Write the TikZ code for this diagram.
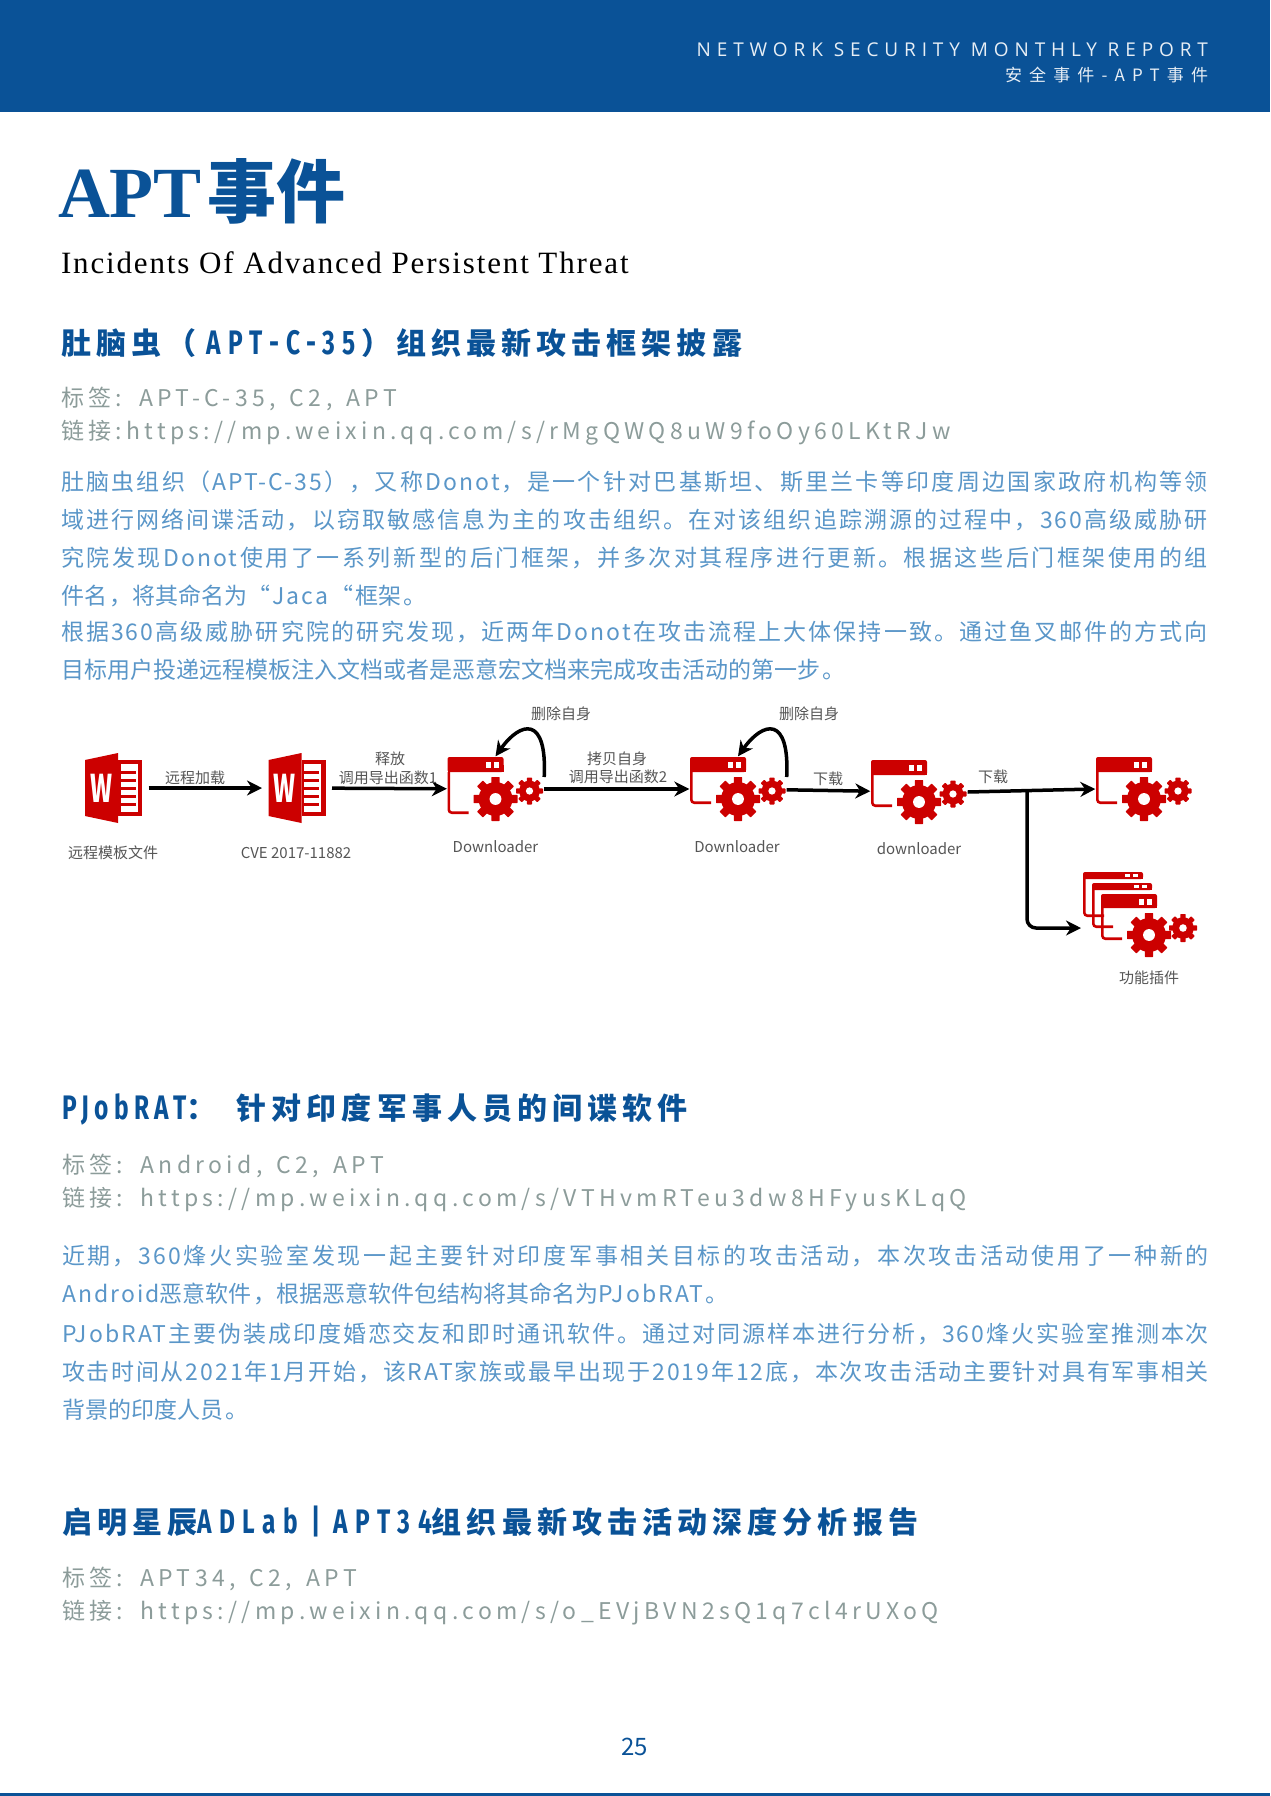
\documentclass[tikz,border=0pt]{standalone}
\usepackage{fontspec}
\usetikzlibrary{arrows.meta}
\setmainfont{Noto Sans CJK SC}
\newfontfamily\bodyfont[LetterSpace=9]{Noto Sans CJK SC}
\newfontfamily\tagfont[LetterSpace=18.8,WordSpace=1.5]{Noto Sans CJK SC}
\newfontfamily\headfont[LetterSpace=17]{Noto Sans CJK SC}
\newfontfamily\headlat[LetterSpace=16,FakeStretch=.72]{Fira Sans}
\newfontfamily\headlatw[LetterSpace=22,FakeStretch=.72]{Fira Sans}
\newfontfamily\topfont[LetterSpace=31]{Open Sans}
\newfontfamily\topcjk[LetterSpace=42]{Noto Sans CJK SC}
\newfontfamily\titlelat{Liberation Serif}
\newfontfamily\subfont[LetterSpace=6]{Liberation Serif}
\newfontfamily\wfont[FakeStretch=.62]{Noto Sans CJK SC}
\newcommand{\fsz}[1]{\fontsize{#1}{#1}\selectfont}
\newcommand{\hl}[1]{{\headlat\fsz{34}#1}}
\newcommand{\hlw}[1]{{\headlatw\fsz{34}#1}}
\XeTeXlinebreaklocale "zh"
\XeTeXlinebreakskip=0pt plus 2pt minus 1pt
\definecolor{bannerblue}{HTML}{0A5297}
\definecolor{bodyblue}{HTML}{5A96C8}
\definecolor{taggrey}{HTML}{8C9C9A}
\definecolor{iconred}{HTML}{CC0000}
\definecolor{labelgrey}{HTML}{555555}
\tikzset{
	txt/.style={inner sep=0pt,outer sep=0pt,anchor=base west},
	toptxt/.style={txt,anchor=base east,text=white!90!bannerblue},
	headtxt/.style={txt,text=bannerblue,font=\headfont\bfseries\fsz{30}},
	tagtxt/.style={txt,text=taggrey,font=\tagfont\fsz{23}},
	bodytxt/.style={inner sep=0pt,outer sep=0pt,anchor=north west,text width=1147pt,align=justify,text=bodyblue,
		font=\bodyfont\fontsize{23}{37.8}\selectfont,execute at begin node={\sloppy}},
	lbl/.style={inner sep=0pt,text=labelgrey,font=\fsz{15}},
	iconbox/.style={inner sep=0pt,minimum width=97pt,minimum height=65pt},
	wordbox/.style={inner sep=0pt,minimum width=57pt,minimum height=70pt,outer sep=6.5pt},
	flowline/.style={line width=3.5pt,-{Stealth[length=15pt,width=15pt]}},
	pics/gearicon/.style={code={
		\fill[iconred] (0,0) circle ({#1*0.77});
		\foreach \a in {0,45,...,315}
			\fill[iconred,rotate=\a,rounded corners=0.6pt] ({-#1*0.19},{-#1}) rectangle ({#1*0.19},0);
		\fill[white] (0,0) circle ({#1*0.27});
	}},
	pics/winicon/.style n args={3}{code={
		\fill[iconred,rounded corners=2pt] (0,0) rectangle (#1,#3);
		\fill[iconred] (0,{#3/2}) rectangle (#1,#3);
		\fill[white] ({#1-18},{#3*0.35}) rectangle ({#1-13},{#3*0.75});
		\fill[white] ({#1-10},{#3*0.35}) rectangle ({#1-5},{#3*0.75});
		\draw[iconred,line width=2.6pt,rounded corners=3pt] (1.3,#3) -- (1.3,{#2-1.3}) -- (21,{#2-1.3});
	}},
	pics/dlicon/.style={code={
		\pic at (-48,-32) {winicon={56}{#1}{15}};
		\pic at (0,10) {gearicon=22};
		\pic at (34,2) {gearicon=13.5};
	}},
	pics/wordicon/.style={code={
		\fill[iconred] (-28.5,-28) -- (4.5,-35) -- (4.5,35) -- (-28.5,28) -- cycle;
		\fill[iconred] (4.5,-28) rectangle (28.5,28);
		\fill[white] (7,-24) rectangle (24,24);
		\foreach \s in {-17,-9,-1,7,15}
			\fill[iconred] (7,\s) rectangle (22,\s+3);
		\node[inner sep=0pt,text=white,font=\wfont\bfseries\fsz{38}] at (-12,0) {W};
	}},
}

\begin{document}
\begin{tikzpicture}[x=1pt,y=-1pt]
	\useasboundingbox (0,0) rectangle (1270,1796);
	\fill[bannerblue] (0,0) rectangle (1270,112);
	\fill[bannerblue] (0,1793) rectangle (1270,1796);

	\node[toptxt,font=\topfont\fsz{19}] (reportname) at (1208,56) {NETWORK SECURITY MONTHLY REPORT};
	\node[toptxt,font=\topcjk\fsz{17}] (reportpart) at (1208,81) {安全事件-APT事件};

	\node[txt,text=bannerblue] (pagetitle) at (58,217)
		{{\titlelat\bfseries\fsz{72}APT}\hspace{5pt}{\bfseries\fsz{69}事件}};
	\node[txt,font=\subfont\fsz{31}] (pagesub) at (61,273) {Incidents Of Advanced Persistent Threat};

	% first incident
	\node[headtxt] (headA) at (61,354) {肚脑虫（\hspace{10pt}\hlw{APT-C-35}\hspace{5pt}）组织最新攻击框架披露};
	\node[tagtxt] (tagA) at (61,406) {标签: APT-C-35, C2, APT};
	\node[tagtxt] (linkA) at (61,439) {链接:https://mp.weixin.qq.com/s/rMgQWQ8uW9foOy60LKtRJw};
	\node[bodytxt] (textA) at (61,471) {肚脑虫组织（APT-C-35），又称Donot，是一个针对巴基斯坦、斯里兰卡等印度周边国家政府机构等领\linebreak
		域进行网络间谍活动，以窃取敏感信息为主的攻击组织。在对该组织追踪溯源的过程中，360高级威胁研\linebreak
		究院发现Donot使用了一系列新型的后门框架，并多次对其程序进行更新。根据这些后门框架使用的组\linebreak
		件名，将其命名为“Jaca“框架。};
	\node[bodytxt] (textB) at (61,621) {根据360高级威胁研究院的研究发现，近两年Donot在攻击流程上大体保持一致。通过鱼叉邮件的方式向\linebreak
		目标用户投递远程模板注入文档或者是恶意宏文档来完成攻击活动的第一步。};

	% attack chain
	\node[wordbox] (wordA) at (113.5,788) {};
	\node[wordbox] (wordB) at (297,788) {};
	\node[iconbox] (dlA) at (495.5,789) {};
	\node[iconbox] (dlB) at (738,789) {};
	\node[iconbox] (dlC) at (919,792) {};
	\node[iconbox] (dlD) at (1144,789) {};
	\node[inner sep=0pt,minimum width=114pt,minimum height=60pt,outer sep=2pt] (plugin) at (1140,928) {};
	\coordinate (branch) at (1027,791);

	\pic at (wordA.center) {wordicon};
	\pic at (wordB.center) {wordicon};
	\pic at (dlA.center) {dlicon=57};
	\pic at (dlB.center) {dlicon=47};
	\pic at (dlC.center) {dlicon=47};
	\pic at (dlD.center) {dlicon=47};
	\pic at (1083,872) {winicon={60}{45}{7}};
	\pic at (1092,883) {winicon={60}{45}{7}};
	\pic at (1101,894) {winicon={56}{46}{14}};
	\pic at (1149,935) {gearicon=22};
	\pic at (1183,928) {gearicon=14};

	\draw[flowline] (wordA) -- (wordB);
	\draw[flowline] (wordB) -- (dlA);
	\draw[flowline] (dlA) -- (dlB);
	\draw[flowline] (dlB) -- (dlC);
	\draw[flowline] (dlC.east) -- (dlD.west);
	\draw[flowline,rounded corners=9pt] (branch) |- (plugin.west);
	\draw[flowline] ([yshift=12pt]dlA.east) .. controls +(3,-62) and +(25,-35) .. (dlA.north);
	\draw[flowline] ([yshift=12pt]dlB.east) .. controls +(3,-62) and +(25,-35) .. (dlB.north);

	\node[lbl] (lblload) at (195,778) {远程加载};
	\node[lbl] (lblrelA) at (390,759) {释放};
	\node[lbl] (lblcallA) at (388,778) {调用导出函数1};
	\node[lbl] (lbldelA) at (561,714) {删除自身};
	\node[lbl] (lblcopy) at (617,759) {拷贝自身};
	\node[lbl] (lblcallB) at (618,777) {调用导出函数2};
	\node[lbl] (lbldelB) at (809,714) {删除自身};
	\node[lbl] (lbldownA) at (828,779) {下载};
	\node[lbl] (lbldownB) at (993,777) {下载};
	\node[lbl] (namewordA) at (113,853) {远程模板文件};
	\node[lbl] (namewordB) at (296,853) {CVE 2017-11882};
	\node[lbl] (namedlA) at (495.5,847) {Downloader};
	\node[lbl] (namedlB) at (737,847) {Downloader};
	\node[lbl] (namedlC) at (919,849) {downloader};
	\node[lbl] (nameplugin) at (1149,978) {功能插件};

	% second incident
	\node[headtxt] (headB) at (62,1119) {\hl{PJobRAT}：\hspace{20pt}针对印度军事人员的间谍软件};
	\node[tagtxt] (tagB) at (62,1173) {标签: Android, C2, APT};
	\node[tagtxt] (linkB) at (62,1206) {链接: https://mp.weixin.qq.com/s/VTHvmRTeu3dw8HFyusKLqQ};
	\node[bodytxt] (textC) at (62,1245) {近期，360烽火实验室发现一起主要针对印度军事相关目标的攻击活动，本次攻击活动使用了一种新的\linebreak
		Android恶意软件，根据恶意软件包结构将其命名为PJobRAT。};
	\node[bodytxt] (textD) at (62,1323) {PJobRAT主要伪装成印度婚恋交友和即时通讯软件。通过对同源样本进行分析，360烽火实验室推测本次\linebreak
		攻击时间从2021年1月开始，该RAT家族或最早出现于2019年12底，本次攻击活动主要针对具有军事相关\linebreak
		背景的印度人员。};

	% third incident
	\node[headtxt] (headC) at (62,1533) {启明星辰\hlw{ADLab | APT34}组织最新攻击活动深度分析报告};
	\node[tagtxt] (tagC) at (62,1586) {标签: APT34, C2, APT};
	\node[tagtxt] (linkC) at (62,1619) {链接: https://mp.weixin.qq.com/s/o\_EVjBVN2sQ1q7cl4rUXoQ};

	\node[inner sep=0pt,text=bannerblue,font=\fsz{24}] (pagenum) at (634.5,1747) {25};
\end{tikzpicture}
\end{document}
